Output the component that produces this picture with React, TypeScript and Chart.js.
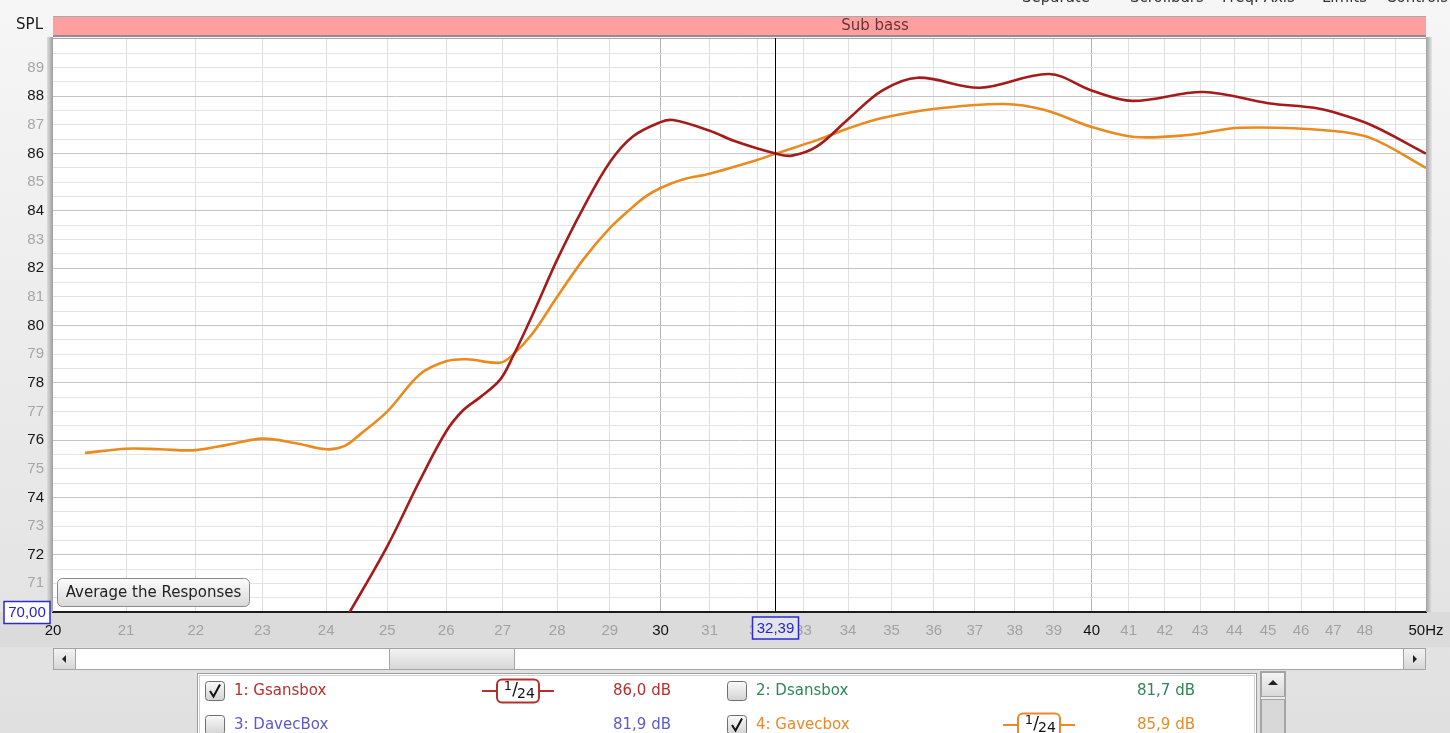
import React, { useEffect, useRef } from 'react';
import { Chart, registerables } from 'chart.js';

Chart.register(...registerables);

// ---- data ----
const gsansFreq = [23.6, 24.0, 24.38, 25.0, 25.55, 26.0, 26.3, 26.6, 26.95, 27.18, 27.55, 28.0, 28.49, 29.0, 29.45, 30.0, 30.25, 31.0, 31.5, 32.4, 32.75, 33.3, 34.0, 34.78, 35.62, 37.13, 38.88, 40.0, 41.1, 43.1, 45.0, 46.4, 47.0, 48.2, 50.0];
const gsansDb = [67.3, 68.6, 70.0, 72.3, 74.6, 76.3, 77.05, 77.5, 78.1, 78.9, 80.4, 82.3, 84.1, 85.7, 86.6, 87.1, 87.17, 86.8, 86.45, 86.0, 85.93, 86.25, 87.2, 88.2, 88.65, 88.3, 88.78, 88.2, 87.84, 88.15, 87.76, 87.6, 87.45, 87.0, 86.0];

const gavecFreq = [20.43, 21.0, 21.48, 22.0, 22.5, 23.0, 23.5, 24.0, 24.3, 24.55, 25.0, 25.55, 26.0, 26.36, 26.95, 27.18, 27.55, 28.0, 28.49, 29.0, 29.45, 29.7, 30.0, 30.45, 31.0, 32.0, 32.4, 33.3, 34.04, 34.78, 35.94, 37.73, 38.77, 40.0, 41.17, 42.66, 44.19, 46.93, 48.2, 50.0];
const gavecDb = [75.55, 75.7, 75.68, 75.65, 75.85, 76.05, 75.9, 75.68, 75.8, 76.2, 77.0, 78.3, 78.75, 78.82, 78.7, 78.97, 79.74, 81.0, 82.3, 83.4, 84.14, 84.5, 84.8, 85.1, 85.3, 85.78, 86.0, 86.47, 86.9, 87.24, 87.55, 87.73, 87.52, 86.93, 86.58, 86.65, 86.9, 86.8, 86.54, 85.5];

const xTickValues = [20, 21, 22, 23, 24, 25, 26, 27, 28, 29, 30, 31, 32, 33, 34, 35, 36, 37, 38, 39, 40, 41, 42, 43, 44, 45, 46, 47, 48, 49, 50];
const xLabelValues = [20, 21, 22, 23, 24, 25, 26, 27, 28, 29, 30, 31, 32, 33, 34, 35, 36, 37, 38, 39, 40, 41, 42, 43, 44, 45, 46, 47, 48, 50];
const xMajor = [20, 30, 40, 50];
const yTickLabels = [71, 72, 73, 74, 75, 76, 77, 78, 79, 80, 81, 82, 83, 84, 85, 86, 87, 88, 89];
const yMin = 70;
const yMax = 90;
const yGridStep = 0.5;

const cursorFreq = 32.39;
const cursorLabel = '32,39';
const yReadout = '70,00';
const bandLabel = 'Sub bass';
const bandLabelX = 875;
const axisTitle = 'SPL';
const buttonLabel = 'Average the Responses';
const topMenu = ['Separate', 'Scrollbars', 'Freq. Axis', 'Limits', 'Controls'];
const topMenuX = [1022, 1130, 1222, 1322, 1386];

const legendNames = ['1: Gsansbox', '2: Dsansbox', '3: DavecBox', '4: Gavecbox'];
const legendLevels = ['86,0 dB', '81,7 dB', '81,9 dB', '85,9 dB'];
const legendColors = ['#b3302c', '#2f8656', '#5a5acc', '#e8892a'];
const legendChecked = [true, false, false, true];

const RED = '#a51b1b';
const ORANGE = '#ea8b1f';
const FONT_TEXT = '"DejaVu Sans", sans-serif';
const FONT_NUM = '"Liberation Sans", Arial, sans-serif';

function text(ctx: CanvasRenderingContext2D, s: string, x: number, y: number, font: string, color: string, align: CanvasTextAlign = 'left', baseline: CanvasTextBaseline = 'middle') {
  ctx.font = font;
  ctx.fillStyle = color;
  ctx.textAlign = align;
  ctx.textBaseline = baseline;
  ctx.fillText(s, x, y);
}

function rr(ctx: CanvasRenderingContext2D, x: number, y: number, w: number, h: number, r: number) {
  ctx.beginPath();
  ctx.moveTo(x + r, y);
  ctx.lineTo(x + w - r, y);
  ctx.arcTo(x + w, y, x + w, y + r, r);
  ctx.lineTo(x + w, y + h - r);
  ctx.arcTo(x + w, y + h, x + w - r, y + h, r);
  ctx.lineTo(x + r, y + h);
  ctx.arcTo(x, y + h, x, y + h - r, r);
  ctx.lineTo(x, y + r);
  ctx.arcTo(x, y, x + r, y, r);
  ctx.closePath();
}

function checkbox(ctx: CanvasRenderingContext2D, x: number, y: number, checked: boolean) {
  const g = ctx.createLinearGradient(0, y, 0, y + 19);
  g.addColorStop(0, '#fbfbfb');
  g.addColorStop(1, '#d4d4d4');
  rr(ctx, x + 0.5, y + 0.5, 19, 19, 3);
  ctx.fillStyle = g;
  ctx.fill();
  ctx.strokeStyle = '#6e6e6e';
  ctx.lineWidth = 1;
  ctx.stroke();
  if (checked) {
    ctx.beginPath();
    ctx.moveTo(x + 5, y + 10);
    ctx.lineTo(x + 8.5, y + 15.5);
    ctx.lineTo(x + 15, y + 3.5);
    ctx.strokeStyle = '#111';
    ctx.lineWidth = 2;
    ctx.stroke();
  }
}

function fractionSymbol(ctx: CanvasRenderingContext2D, cx: number, cy: number, color: string) {
  ctx.strokeStyle = color;
  ctx.lineWidth = 2;
  ctx.beginPath();
  ctx.moveTo(cx - 36, cy);
  ctx.lineTo(cx + 36, cy);
  ctx.stroke();
  rr(ctx, cx - 21, cy - 11.5, 42, 23, 5);
  ctx.fillStyle = '#fff';
  ctx.fill();
  ctx.stroke();
  text(ctx, '1', cx - 10, cy - 4, `13px ${FONT_TEXT}`, '#111', 'center');
  text(ctx, '/', cx - 3, cy, `17px ${FONT_TEXT}`, '#111', 'center');
  text(ctx, '24', cx + 8, cy + 3.5, `14px ${FONT_TEXT}`, '#111', 'center');
}

const decor = {
  id: 'decor',
  beforeDraw(chart: any) {
    const { ctx, chartArea: a, width, height } = chart;
    ctx.save();
    const g = ctx.createLinearGradient(0, 0, 0, height);
    g.addColorStop(0, '#f6f6f6');
    g.addColorStop(1, '#e0e0e0');
    ctx.fillStyle = g;
    ctx.fillRect(0, 0, width, height);
    ctx.fillStyle = '#dbdbdb';
    ctx.fillRect(0, a.bottom, width, 35);
    ctx.fillStyle = '#ffffff';
    ctx.fillRect(a.left, a.top, a.right - a.left, a.bottom - a.top);
    ctx.restore();
  },
  afterDraw(chart: any) {
    const { ctx, chartArea: a } = chart;
    const xs = chart.scales.x;
    const ys = chart.scales.y;
    ctx.save();

    // plot frame & shadows
    let g = ctx.createLinearGradient(a.left - 6, 0, a.left, 0);
    g.addColorStop(0, '#dedede');
    g.addColorStop(1, '#9c9c9c');
    ctx.fillStyle = g;
    ctx.fillRect(a.left - 6, a.top - 2, 6, a.bottom - a.top + 2);
    g = ctx.createLinearGradient(a.right, 0, a.right + 6, 0);
    g.addColorStop(0, '#a0a0a0');
    g.addColorStop(1, '#e6e6e6');
    ctx.fillStyle = g;
    ctx.fillRect(a.right, a.top - 2, 6, a.bottom - a.top + 2);
    ctx.strokeStyle = '#a8a8a8';
    ctx.lineWidth = 1;
    ctx.beginPath();
    ctx.moveTo(a.left, a.top - 0.5);
    ctx.lineTo(a.right, a.top - 0.5);
    ctx.stroke();

    // band bar
    const bx = a.left, by = 17, bw = a.right - a.left, bh = 18;
    ctx.fillStyle = '#ff9f9f';
    ctx.fillRect(bx, by, bw, bh);
    ctx.fillStyle = '#a9a9a9';
    ctx.fillRect(bx, by - 1, bw, 1);
    ctx.fillStyle = '#8f8f8f';
    ctx.fillRect(bx, by + bh, bw, 2);
    text(ctx, bandLabel, bandLabelX, by + bh / 2 + 0.5, `15px ${FONT_TEXT}`, '#6b3434', 'center');
    text(ctx, axisTitle, 43, 25, `15px ${FONT_TEXT}`, '#1a1a1a', 'right');

    // top menu (cut off)
    topMenu.forEach((s, i) => text(ctx, s, topMenuX[i], 2, `15px ${FONT_TEXT}`, '#333', 'left', 'alphabetic'));

    // cursor
    const cx = Math.round(xs.getPixelForValue(cursorFreq)) + 0.5;
    ctx.strokeStyle = '#000';
    ctx.lineWidth = 1;
    ctx.beginPath();
    ctx.moveTo(cx, a.top - 1);
    ctx.lineTo(cx, a.bottom);
    ctx.stroke();

    // cursor readout box
    ctx.fillStyle = '#e4e4ec';
    ctx.fillRect(cx - 23, 617, 46, 22);
    ctx.strokeStyle = '#2b2bd0';
    ctx.lineWidth = 1.5;
    ctx.strokeRect(cx - 23, 617, 46, 22);
    text(ctx, cursorLabel, cx, 628.5, `15px ${FONT_NUM}`, '#2424c8', 'center');

    // y readout box
    const y70 = ys.getPixelForValue(yMin);
    ctx.fillStyle = '#ffffff';
    ctx.fillRect(4, y70 - 10.5, 46, 22);
    ctx.strokeRect(4, y70 - 10.5, 46, 22);
    text(ctx, yReadout, 27, y70 + 0.5, `15px ${FONT_NUM}`, '#2424c8', 'center');

    // button
    g = ctx.createLinearGradient(0, 578, 0, 607);
    g.addColorStop(0, '#fdfdfd');
    g.addColorStop(1, '#d8d8d8');
    rr(ctx, 57.5, 578.5, 192, 28, 5);
    ctx.fillStyle = g;
    ctx.fill();
    ctx.strokeStyle = '#8a8a8a';
    ctx.lineWidth = 1;
    ctx.stroke();
    text(ctx, buttonLabel, 153.5, 593.5, `15px ${FONT_TEXT}`, '#222', 'center');

    // horizontal scrollbar
    const sy = 648, sh = 22;
    ctx.fillStyle = '#ffffff';
    ctx.fillRect(a.left, sy, a.right - a.left, sh);
    ctx.strokeStyle = '#a4a4a4';
    ctx.strokeRect(a.left + 0.5, sy + 0.5, a.right - a.left - 1, sh - 1);
    const btn = (x: number, w: number) => {
      const gg = ctx.createLinearGradient(0, sy, 0, sy + sh);
      gg.addColorStop(0, '#f4f4f4');
      gg.addColorStop(1, '#d6d6d6');
      ctx.fillStyle = gg;
      ctx.fillRect(x, sy + 1, w, sh - 2);
      ctx.strokeStyle = '#a4a4a4';
      ctx.strokeRect(x + 0.5, sy + 0.5, w - 1, sh - 1);
    };
    btn(a.left, 23);
    btn(a.right - 23, 23);
    btn(389, 126);
    ctx.fillStyle = '#222';
    ctx.beginPath();
    ctx.moveTo(a.left + 9, sy + 11);
    ctx.lineTo(a.left + 13, sy + 7);
    ctx.lineTo(a.left + 13, sy + 15);
    ctx.closePath();
    ctx.fill();
    ctx.beginPath();
    ctx.moveTo(a.right - 9, sy + 11);
    ctx.lineTo(a.right - 13, sy + 7);
    ctx.lineTo(a.right - 13, sy + 15);
    ctx.closePath();
    ctx.fill();

    // legend panel
    ctx.fillStyle = '#ffffff';
    ctx.fillRect(197, 673, 1060, 70);
    ctx.strokeStyle = '#9c9c9c';
    ctx.lineWidth = 1;
    ctx.strokeRect(197.5, 673.5, 1059, 70);
    ctx.strokeStyle = '#d0d0d0';
    ctx.strokeRect(199.5, 675.5, 1055, 70);
    // legend scrollbar
    ctx.fillStyle = '#ececec';
    ctx.fillRect(1260, 671, 26, 62);
    ctx.strokeStyle = '#a4a4a4';
    ctx.strokeRect(1260.5, 671.5, 25, 70);
    g = ctx.createLinearGradient(0, 672, 0, 696);
    g.addColorStop(0, '#f6f6f6');
    g.addColorStop(1, '#d8d8d8');
    ctx.fillStyle = g;
    ctx.fillRect(1261, 672, 24, 24);
    ctx.strokeRect(1261.5, 672.5, 23, 24);
    ctx.fillStyle = g;
    ctx.fillRect(1261, 699, 24, 40);
    ctx.strokeRect(1261.5, 699.5, 23, 40);
    ctx.fillStyle = '#222';
    ctx.beginPath();
    ctx.moveTo(1273, 680);
    ctx.lineTo(1278, 685);
    ctx.lineTo(1268, 685);
    ctx.closePath();
    ctx.fill();

    legendNames.forEach((name, i) => {
      const col = i % 2;
      const row = Math.floor(i / 2);
      const yc = 691 + row * 34;
      const cbx = col === 0 ? 205 : 727;
      const nx = col === 0 ? 234 : 756;
      const symx = col === 0 ? 518 : 1039;
      const lx = col === 0 ? 613 : 1137;
      checkbox(ctx, cbx, yc - 10, legendChecked[i]);
      text(ctx, name, nx, yc + 0.5, `15px ${FONT_TEXT}`, legendColors[i]);
      if (legendChecked[i]) fractionSymbol(ctx, symx, yc, legendColors[i]);
      text(ctx, legendLevels[i], lx, yc + 0.5, `15px ${FONT_TEXT}`, legendColors[i]);
    });

    ctx.restore();
  },
};

export default function App() {
  const ref = useRef<HTMLCanvasElement>(null);

  useEffect(() => {
    const canvas = ref.current;
    if (!canvas) return;
    const yGrid: number[] = [];
    for (let v = yMin; v <= yMax + 1e-9; v += yGridStep) yGrid.push(Math.round(v * 10) / 10);

    const chart = new Chart(canvas, {
      type: 'line',
      data: {
        datasets: [
          {
            label: legendNames[0],
            data: gsansFreq.map((f, i) => ({ x: f, y: gsansDb[i] })),
            borderColor: RED,
            borderWidth: 2.6,
            pointRadius: 0,
            tension: 0.35,
            fill: false,
          },
          {
            label: legendNames[3],
            data: gavecFreq.map((f, i) => ({ x: f, y: gavecDb[i] })),
            borderColor: ORANGE,
            borderWidth: 2.6,
            pointRadius: 0,
            tension: 0.35,
            fill: false,
          },
        ],
      },
      options: {
        animation: false,
        responsive: false,
        maintainAspectRatio: false,
        parsing: false as any,
        layout: { padding: { top: 39, right: 24, bottom: 0, left: 0 } },
        plugins: {
          legend: { display: false },
          tooltip: { enabled: false },
        },
        scales: {
          x: {
            type: 'logarithmic',
            min: 20,
            max: 50,
            afterBuildTicks: (s: any) => {
              s.ticks = xTickValues.map((v) => ({ value: v }));
            },
            afterFit: (s: any) => {
              s.height = 121;
              s.paddingLeft = 0;
              s.paddingRight = 0;
            },
            grid: {
              drawTicks: false,
              lineWidth: 1,
              color: (c: any) => {
                const v = c.tick ? c.tick.value : 0;
                if (v === 20 || v === 50) return 'rgba(0,0,0,0)';
                return v === 30 || v === 40 ? '#b4b4b4' : '#e0e0e0';
              },
            },
            border: { display: true, color: '#1c1c1c', width: 2 },
            ticks: {
              autoSkip: false,
              maxRotation: 0,
              minRotation: 0,
              padding: 10,
              font: { family: FONT_NUM, size: 15 },
              color: (c: any) => (xMajor.includes(c.tick.value) ? '#111111' : '#a2a2a2'),
              callback: (v: any) => {
                if (!xLabelValues.includes(v)) return '';
                return v === 50 ? '50Hz' : String(v);
              },
            },
          },
          y: {
            type: 'linear',
            min: yMin,
            max: yMax,
            afterBuildTicks: (s: any) => {
              s.ticks = yGrid.map((v) => ({ value: v }));
            },
            afterFit: (s: any) => {
              s.width = 53;
            },
            grid: {
              drawTicks: false,
              lineWidth: 1,
              color: (c: any) => {
                const v = c.tick ? c.tick.value : 0;
                if (v === yMin || v === yMax) return 'rgba(0,0,0,0)';
                return v % 2 === 0 ? '#c4c4c4' : '#e3e3e3';
              },
            },
            border: { display: false },
            ticks: {
              autoSkip: false,
              padding: 9,
              font: { family: FONT_NUM, size: 15 },
              color: (c: any) => (c.tick.value % 2 === 0 ? '#151515' : '#a6a6a6'),
              callback: (v: any) => (yTickLabels.includes(v) ? String(v) : ''),
            },
          },
        },
      },
      plugins: [decor],
    } as any);

    return () => chart.destroy();
  }, []);

  return (
    <div style={{ position: 'fixed', left: 0, top: 0, width: 1450, height: 733, overflow: 'hidden' }}>
      <canvas ref={ref} width={1450} height={733} style={{ display: 'block', width: 1450, height: 733 }} />
    </div>
  );
}
